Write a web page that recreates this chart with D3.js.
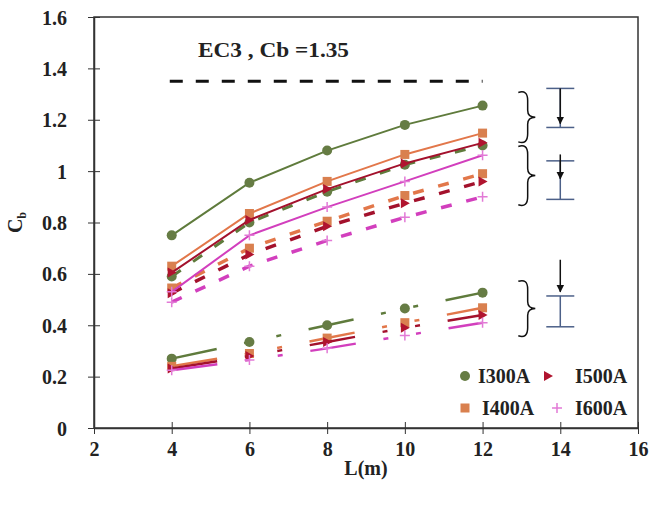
<!DOCTYPE html>
<html>
<head>
<meta charset="utf-8">
<script src="https://cdn.jsdelivr.net/npm/d3@7"></script>
<style>
  html, body { margin: 0; padding: 0; background: #fff; }
  svg { display: block; }
  text { font-family: "Liberation Serif", "Times New Roman", serif; font-weight: bold; fill: #222; }
</style>
</head>
<body>
<svg id="chart" width="652" height="508"></svg>
<script>
// Span lengths L (m)
const spans = [4, 6, 8, 10, 12];

// Cb values per section, three curve families each
const i300Solid  = [0.75, 0.955, 1.08, 1.18, 1.255];
const i300Dashed = [0.59, 0.80, 0.92, 1.025, 1.10];
const i300Lower  = [0.27, 0.335, 0.40, 0.465, 0.527];

const i400Solid  = [0.63, 0.835, 0.96, 1.065, 1.148];
const i400Dashed = [0.545, 0.70, 0.805, 0.905, 0.99];
const i400Lower  = [0.24, 0.29, 0.35, 0.41, 0.468];

const i500Solid  = [0.605, 0.81, 0.93, 1.03, 1.11];
const i500Dashed = [0.525, 0.675, 0.785, 0.875, 0.96];
const i500Lower  = [0.232, 0.28, 0.335, 0.39, 0.44];

const i600Solid  = [0.53, 0.75, 0.86, 0.96, 1.062];
const i600Dashed = [0.49, 0.63, 0.73, 0.82, 0.90];
const i600Lower  = [0.225, 0.265, 0.31, 0.36, 0.41];

// EC3 reference value
const ec3Cb = 1.35;
const ec3Span = [3.95, 12];

// Axis ticks
const xTicks = [2, 4, 6, 8, 10, 12, 14, 16];
const yTicks = [0, 0.2, 0.4, 0.6, 0.8, 1, 1.2, 1.4, 1.6];

// Range bars (x, top, bottom) with arrows (start, tip) and braces (x, top, bottom)
const rangeBars = [
  { x: 14, hi: 1.322, lo: 1.17, arrowFrom: 1.322, arrowTo: 1.185 },
  { x: 14, hi: 1.04, lo: 0.89, arrowFrom: 1.065, arrowTo: 0.97 },
  { x: 14, hi: 0.514, lo: 0.394, arrowFrom: 0.655, arrowTo: 0.53 }
];
const braces = [
  { x: 12.92, hi: 1.31, lo: 1.11 },
  { x: 12.92, hi: 1.10, lo: 0.865 },
  { x: 12.92, hi: 0.575, lo: 0.355 }
];

const sections = [
  { name: "I300A", marker: "circle",   line: "#5f7b3c", fill: "#667c44", solid: i300Solid, dashed: i300Dashed, lower: i300Lower },
  { name: "I400A", marker: "square",   line: "#e2774a", fill: "#d9804f", solid: i400Solid, dashed: i400Dashed, lower: i400Lower },
  { name: "I500A", marker: "triangle", line: "#a3112c", fill: "#b0142f", solid: i500Solid, dashed: i500Dashed, lower: i500Lower },
  { name: "I600A", marker: "plus",     line: "#d23fbd", fill: "#e27ad6", solid: i600Solid, dashed: i600Dashed, lower: i600Lower }
];

const svg = d3.select("#chart");
const margin = { left: 94, right: 14, top: 17, bottom: 80 };
const W = 652, H = 508;

const x = d3.scaleLinear().domain([2, 16]).range([margin.left, W - margin.right]);
const y = d3.scaleLinear().domain([0, 1.6]).range([H - margin.bottom, margin.top]);

// Plot frame
svg.append("rect")
  .attr("x", x(2)).attr("y", y(1.6))
  .attr("width", x(16) - x(2)).attr("height", y(0) - y(1.6))
  .attr("fill", "none").attr("stroke", "#333").attr("stroke-width", 1.5);

// Axes with ticks crossing the frame
const xAxis = svg.append("g").attr("transform", `translate(0,${y(0)})`)
  .call(d3.axisBottom(x).tickValues(xTicks).tickSizeInner(6).tickSizeOuter(0).tickFormat(d3.format("d")));
xAxis.select(".domain").attr("stroke", "#333").attr("stroke-width", 1.5);
xAxis.selectAll(".tick line").attr("y1", -6).attr("y2", 6).attr("stroke", "#333");
xAxis.selectAll(".tick text").attr("y", 14).style("font-size", "20px")
  .style("font-family", "Liberation Serif, serif").style("font-weight", "bold").attr("fill", "#222");

const yAxis = svg.append("g").attr("transform", `translate(${x(2)},0)`)
  .call(d3.axisLeft(y).tickValues(yTicks).tickSizeInner(6).tickSizeOuter(0).tickFormat(d => d3.format("")(+d.toFixed(1))));
yAxis.select(".domain").attr("stroke", "#333").attr("stroke-width", 1.5);
yAxis.selectAll(".tick line").attr("x1", -6).attr("x2", 6).attr("stroke", "#333");
yAxis.selectAll(".tick text").attr("x", -27).attr("dy", "0.35em").style("font-size", "20px")
  .style("font-family", "Liberation Serif, serif").style("font-weight", "bold").attr("fill", "#222");

// Axis titles
svg.append("text").attr("x", (x(2) + x(16)) / 2).attr("y", 475)
  .attr("text-anchor", "middle").style("font-size", "20px").text("L(m)");
const yt = svg.append("text")
  .attr("transform", `translate(22,${y(0.8)}) rotate(-90)`)
  .attr("text-anchor", "middle").style("font-size", "20px");
yt.append("tspan").text("C");
yt.append("tspan").attr("dy", 4).style("font-size", "12px").text("b");

// EC3 reference line and label
svg.append("line")
  .attr("x1", x(ec3Span[0])).attr("x2", x(ec3Span[1]))
  .attr("y1", y(ec3Cb)).attr("y2", y(ec3Cb))
  .attr("stroke", "#111").attr("stroke-width", 3).attr("stroke-dasharray", "13 13");
svg.append("text").attr("x", 198).attr("y", 57).style("font-size", "22px")
  .attr("textLength", 151).attr("lengthAdjust", "spacingAndGlyphs").text("EC3 , Cb =1.35");

// Marker drawing
function drawMarker(g, kind, cx, cy, s) {
  if (kind === "circle") {
    g.append("circle").attr("cx", cx).attr("cy", cy).attr("r", 5).attr("fill", s.fill);
  } else if (kind === "square") {
    g.append("rect").attr("x", cx - 4.5).attr("y", cy - 4.5).attr("width", 9).attr("height", 9).attr("fill", s.fill);
  } else if (kind === "triangle") {
    g.append("path").attr("d", `M${cx - 4},${cy - 5}L${cx + 5},${cy}L${cx - 4},${cy + 5}Z`).attr("fill", s.fill);
  } else {
    g.append("path").attr("d", `M${cx - 5},${cy}H${cx + 5}M${cx},${cy - 5}V${cy + 5}`)
      .attr("stroke", s.fill).attr("stroke-width", 1.5).attr("fill", "none");
  }
}

const line = d3.line().x((d, i) => x(spans[i])).y(d => y(d));

const families = [
  { key: "lower",  width: 2.5, dash: "46 28 5 28 5 28" },
  { key: "dashed", width: 3.5, dash: "11 15" },
  { key: "solid",  width: 2,   dash: null }
];

families.forEach(f => {
  sections.forEach(s => {
    const g = svg.append("g");
    g.append("path").datum(s[f.key]).attr("d", line)
      .attr("fill", "none").attr("stroke", s.line)
      .attr("stroke-width", f.key === "dashed" && s.name === "I300A" ? 3 : f.width)
      .attr("stroke-dasharray", f.dash);
    s[f.key].forEach((v, i) => drawMarker(g, s.marker, x(spans[i]), y(v), s));
  });
});

// Range bars with arrows
const ann = svg.append("g");
const defs = svg.append("defs");
defs.append("marker").attr("id", "arrowHead").attr("viewBox", "0 0 10 10")
  .attr("refX", 9).attr("refY", 5).attr("markerWidth", 5).attr("markerHeight", 6)
  .attr("orient", "auto").append("path").attr("d", "M0,0L10,5L0,10Z").attr("fill", "#111");

rangeBars.forEach(b => {
  const bx = x(b.x);
  ann.append("line").attr("x1", bx).attr("x2", bx).attr("y1", y(b.hi)).attr("y2", y(b.lo))
    .attr("stroke", "#4c6088").attr("stroke-width", 1.5);
  [b.hi, b.lo].forEach(v => ann.append("line").attr("x1", bx - 14).attr("x2", bx + 14)
    .attr("y1", y(v)).attr("y2", y(v)).attr("stroke", "#4c6088").attr("stroke-width", 1.5));
  ann.append("line").attr("x1", bx).attr("x2", bx).attr("y1", y(b.arrowFrom)).attr("y2", y(b.arrowTo))
    .attr("stroke", "#111").attr("stroke-width", 1.5).attr("marker-end", "url(#arrowHead)");
});

// Curly braces pointing right
braces.forEach(b => {
  const x0 = x(b.x), w = 17;
  const y0 = y(b.hi), y1 = y(b.lo), ym = (y0 + y1) / 2;
  const mx = x0 + w * 0.55;
  const path = `M${x0},${y0 + 1} Q${mx},${y0 - 2} ${mx},${y0 + 9}
    L${mx},${ym - 7} Q${mx},${ym} ${x0 + w},${ym}
    Q${mx},${ym} ${mx},${ym + 7}
    L${mx},${y1 - 9} Q${mx},${y1 + 2} ${x0},${y1 - 1}`;
  ann.append("path").attr("d", path).attr("fill", "none").attr("stroke", "#111").attr("stroke-width", 1.5);
});

// Legend
const legendItems = [
  { s: sections[0], lx: 465, ly: 376, tx: 478 },
  { s: sections[2], lx: 548, ly: 376, tx: 575 },
  { s: sections[1], lx: 465, ly: 408, tx: 482 },
  { s: sections[3], lx: 557, ly: 408, tx: 575 }
];
const lg = svg.append("g");
lg.append("rect").attr("x", 452).attr("y", 360).attr("width", 184).attr("height", 62).attr("fill", "#fff");
legendItems.forEach(it => {
  drawMarker(lg, it.s.marker, it.lx, it.ly, it.s);
  lg.append("text").attr("x", it.tx).attr("y", it.ly).attr("dy", "0.35em")
    .style("font-size", "20px").text(it.s.name);
});
</script>
</body>
</html>
